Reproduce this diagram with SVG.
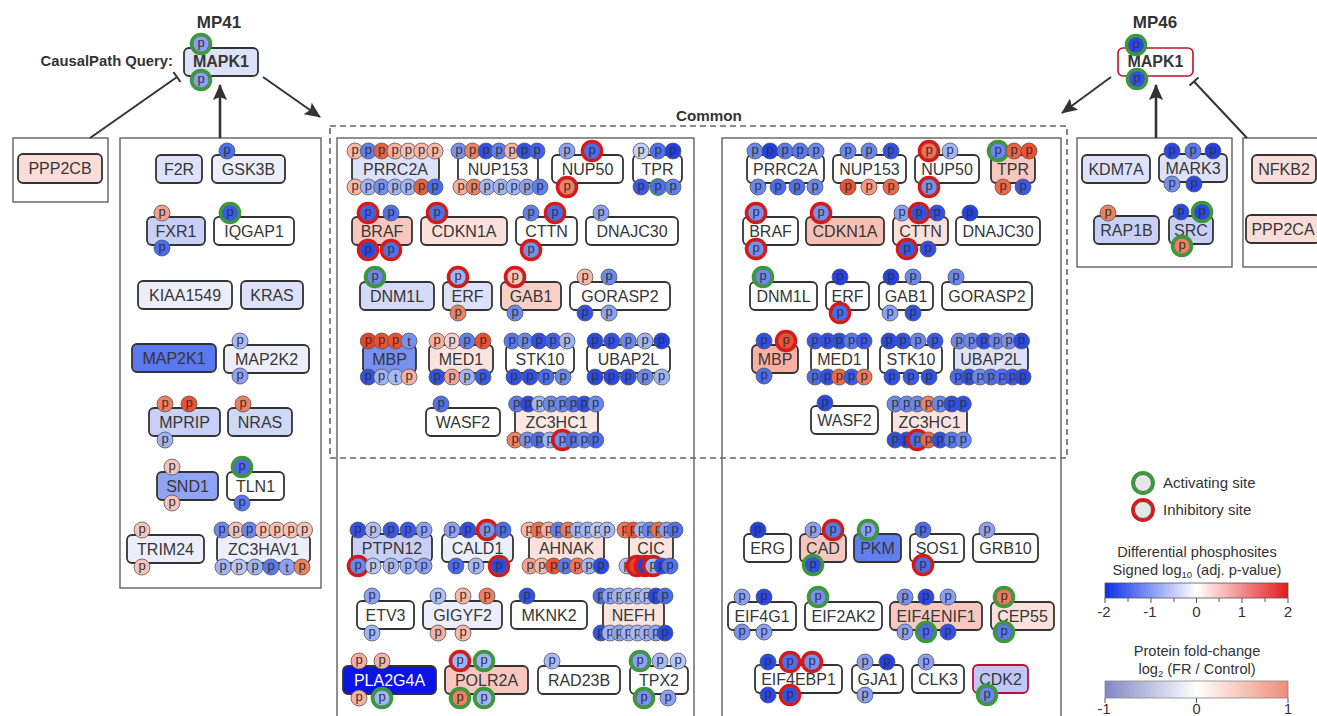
<svg xmlns="http://www.w3.org/2000/svg" width="1317" height="716" viewBox="0 0 1317 716">
<style>
.n{stroke:#333;stroke-width:1.8}
.l{font-family:"Liberation Sans",Arial,sans-serif;font-size:16px;fill:#363636;text-anchor:middle}
.sp{font-family:"Liberation Sans",Arial,sans-serif;font-size:13px;fill:#333;text-anchor:middle}
.pnl{fill:none;stroke:#555;stroke-width:1.3}
.t{font-family:"Liberation Sans",Arial,sans-serif;fill:#333}
.b{font-weight:bold}
</style>
<defs>
<g id="p"><circle r="8" stroke="#555" stroke-width="0.8"/><text class="sp" y="3">p</text></g>
<g id="t"><circle r="8" stroke="#555" stroke-width="0.8"/><text class="sp" y="4.5">t</text></g>
<circle id="A" r="9.7" fill="none" stroke="#3a9a3a" stroke-width="3.2"/>
<circle id="I" r="9.7" fill="none" stroke="#d81818" stroke-width="3.2"/>
<marker id="ah" markerUnits="userSpaceOnUse" viewBox="0 0 16 14" refX="15" refY="7" markerWidth="16" markerHeight="14" orient="auto"><path d="M0,0 L16,7 L0,14 L3,7 z" fill="#333"/></marker>
<linearGradient id="g1" x1="0" x2="1" y1="0" y2="0"><stop offset="0" stop-color="#0a32e6"/><stop offset="0.5" stop-color="#ffffff"/><stop offset="1" stop-color="#e41a1a"/></linearGradient>
<linearGradient id="g2" x1="0" x2="1" y1="0" y2="0"><stop offset="0" stop-color="#8088c4"/><stop offset="0.5" stop-color="#ffffff"/><stop offset="1" stop-color="#f08c78"/></linearGradient>
</defs>
<rect width="1317" height="716" fill="#fff"/>

<!-- panels -->
<g id="panels">
<rect class="pnl" x="13" y="138" width="95" height="64"/>
<rect class="pnl" x="120" y="138" width="201" height="450"/>
<rect class="pnl" x="337" y="138" width="357" height="600"/>
<rect class="pnl" x="722" y="138" width="339" height="600"/>
<rect class="pnl" x="1077" y="138" width="155" height="129"/>
<rect class="pnl" x="1243" y="138" width="90" height="129"/>
<rect x="330" y="126" width="737" height="332" fill="none" stroke="#666" stroke-width="1.6" stroke-dasharray="6 4"/>
</g>

<g id="titles">
<text class="t b" x="219" y="28" font-size="17" text-anchor="middle">MP41</text>
<text class="t b" x="1155" y="28" font-size="17" text-anchor="middle">MP46</text>
<text class="t b" x="173" y="66" font-size="14.8" text-anchor="end">CausalPath Query:</text>
<text class="t b" x="709" y="121" font-size="15.2" text-anchor="middle">Common</text>
</g>

<g id="connectors" stroke="#333" fill="none">
<line x1="220" y1="138" x2="220" y2="85" stroke-width="2.6" marker-end="url(#ah)"/>
<line x1="90" y1="138" x2="177" y2="77" stroke-width="2"/>
<line x1="173.5" y1="72" x2="180.5" y2="82" stroke-width="2"/>
<line x1="263" y1="77" x2="320" y2="117" stroke-width="2" marker-end="url(#ah)"/>
<line x1="1156" y1="138" x2="1156" y2="85" stroke-width="2.6" marker-end="url(#ah)"/>
<line x1="1111" y1="77" x2="1062" y2="113" stroke-width="2" marker-end="url(#ah)"/>
<line x1="1247" y1="138" x2="1194" y2="81.5" stroke-width="2"/>
<line x1="1189.6" y1="85.6" x2="1198.4" y2="77.4" stroke-width="2"/>
</g>

<!-- MP41 -->
<g id="mp41-MAPK1"><rect class="n" x="184" y="48" width="74" height="28" rx="5" fill="#dde1fa"/><text class="l b" x="221" y="67" font-size="14.5">MAPK1</text>
<use href="#p" x="201" y="44" fill="#8ca0f5"/><use href="#A" x="201" y="44"/><use href="#p" x="201" y="80" fill="#8ca0f5"/><use href="#A" x="201" y="80"/></g>
<g id="mp41-PPP2CB"><rect class="n" x="18" y="154" width="84" height="29" rx="5" fill="#fadcd8"/><text class="l" x="60" y="174">PPP2CB</text></g>
<g id="mp41-F2R"><rect class="n" x="156" y="155" width="46" height="28" rx="5" fill="#dde1fa"/><text class="l" x="179" y="174.5">F2R</text></g>
<g id="mp41-GSK3B"><rect class="n" x="212" y="155" width="73" height="28" rx="5" fill="#eceefc"/><text class="l" x="248.5" y="174.5">GSK3B</text><use href="#p" x="227" y="151" fill="#4a6cf0"/></g>
<g id="mp41-FXR1"><rect class="n" x="147" y="217" width="58" height="28" rx="5" fill="#c8d0f8"/><text class="l" x="176" y="236.5">FXR1</text><use href="#p" x="162" y="213" fill="#f4a090"/><use href="#p" x="162" y="248" fill="#4a6cf0"/></g>
<g id="mp41-IQGAP1"><rect class="n" x="214" y="217" width="80" height="28" rx="5" fill="#fff"/><text class="l" x="254" y="236.5">IQGAP1</text><use href="#p" x="230" y="213" fill="#3858ee"/><use href="#A" x="230" y="213"/></g>
<g id="mp41-KIAA1549"><rect class="n" x="138" y="281" width="94" height="28" rx="5" fill="#eceefc"/><text class="l" x="185" y="300.5">KIAA1549</text></g>
<g id="mp41-KRAS"><rect class="n" x="241" y="281" width="62" height="28" rx="5" fill="#dde1fa"/><text class="l" x="272" y="300.5">KRAS</text></g>
<g id="mp41-MAP2K1"><rect class="n" x="132" y="344" width="84" height="28" rx="5" fill="#5a78f0"/><text class="l" x="174" y="363.5">MAP2K1</text></g>
<g id="mp41-MAP2K2"><rect class="n" x="224" y="345" width="85" height="28" rx="5" fill="#eceefc"/><text class="l" x="266.5" y="364.5">MAP2K2</text><use href="#p" x="240" y="341" fill="#a8b8f8"/><use href="#p" x="240" y="376" fill="#8ca0f5"/></g>
<g id="mp41-MPRIP"><rect class="n" x="149" y="408" width="71" height="28" rx="5" fill="#c8d0f8"/><text class="l" x="184.5" y="427.5">MPRIP</text><use href="#p" x="165" y="404" fill="#f08060"/><use href="#p" x="189" y="404" fill="#f05030"/><use href="#p" x="165" y="440" fill="#a0b4f8"/></g>
<g id="mp41-NRAS"><rect class="n" x="228" y="408" width="64" height="28" rx="5" fill="#d0d8f8"/><text class="l" x="260" y="427.5">NRAS</text><use href="#p" x="243" y="404" fill="#f08060"/></g>
<g id="mp41-SND1"><rect class="n" x="157" y="472" width="61" height="28" rx="5" fill="#90a4f5"/><text class="l" x="187.5" y="491.5">SND1</text><use href="#p" x="172" y="467" fill="#f8c4b8"/><use href="#p" x="172" y="503" fill="#f8c4b8"/></g>
<g id="mp41-TLN1"><rect class="n" x="227" y="472" width="57" height="28" rx="5" fill="#fff"/><text class="l" x="255.5" y="491.5">TLN1</text><use href="#p" x="242" y="467" fill="#4a6cf0"/><use href="#A" x="242" y="467"/><use href="#p" x="242" y="503" fill="#5a78f0"/></g>
<g id="mp41-TRIM24"><rect class="n" x="127" y="535" width="77" height="28" rx="5" fill="#eceefc"/><text class="l" x="165.5" y="554.5">TRIM24</text><use href="#p" x="142" y="530" fill="#f8c4b8"/><use href="#p" x="142" y="567" fill="#f8c4b8"/></g>
<g id="mp41-ZC3HAV1"><rect class="n" x="217" y="535" width="93" height="28" rx="5" fill="#eceefc"/><text class="l" x="263.5" y="554.5">ZC3HAV1</text>
<use href="#p" x="222" y="530" fill="#6a88f0"/><use href="#p" x="236" y="530" fill="#f8c0b0"/><use href="#p" x="249.5" y="530" fill="#6a88f0"/><use href="#p" x="263" y="530" fill="#f8c0b0"/><use href="#p" x="277" y="530" fill="#f8c0b0"/><use href="#p" x="291" y="530" fill="#f8c0b0"/><use href="#p" x="304.5" y="530" fill="#f8c4b8"/>
<use href="#p" x="223" y="567" fill="#a0b4f8"/><use href="#p" x="239" y="567" fill="#b8c8f8"/><use href="#p" x="255" y="567" fill="#a0b4f8"/><use href="#p" x="271" y="567" fill="#5a78f0"/><use href="#t" x="287" y="567" fill="#8ca0f5"/><use href="#p" x="302" y="567" fill="#f08060"/></g>

<!-- MP46 -->
<g id="mp46-MAPK1"><rect x="1118" y="48" width="75" height="28" rx="5" fill="#fff" stroke="#c0102a" stroke-width="1.6"/><text class="l b" x="1155.5" y="67" font-size="14.5">MAPK1</text>
<use href="#p" x="1136" y="45" fill="#2848e8"/><use href="#A" x="1136" y="45"/><use href="#p" x="1137" y="79" fill="#3050e8"/><use href="#A" x="1137" y="79"/></g>
<g id="mp46-KDM7A"><rect class="n" x="1082" y="155" width="68" height="28" rx="5" fill="#dde1fa"/><text class="l" x="1116" y="174.5">KDM7A</text></g>
<g id="mp46-MARK3"><rect class="n" x="1159" y="154" width="68" height="28" rx="5" fill="#dde1fa"/><text class="l" x="1193" y="173.5">MARK3</text>
<use href="#p" x="1172" y="151" fill="#2848e8"/><use href="#p" x="1193" y="151" fill="#5a78f0"/><use href="#p" x="1213" y="151" fill="#2040e8"/><use href="#p" x="1172" y="184" fill="#7890f0"/><use href="#p" x="1194" y="184" fill="#2848e8"/></g>
<g id="mp46-NFKB2"><rect class="n" x="1252" y="155" width="64" height="28" rx="5" fill="#fadcd8"/><text class="l" x="1284" y="174.5">NFKB2</text></g>
<g id="mp46-RAP1B"><rect class="n" x="1094" y="216" width="65" height="28" rx="5" fill="#c8d0f8"/><text class="l" x="1126.5" y="235.5">RAP1B</text><use href="#p" x="1108" y="213" fill="#f08060"/></g>
<g id="mp46-SRC"><rect class="n" x="1169" y="216" width="44" height="28" rx="5" fill="#c8d0f8"/><text class="l" x="1191" y="235.5">SRC</text>
<use href="#p" x="1181" y="212" fill="#2848e8"/><use href="#p" x="1202" y="212" fill="#2848e8"/><use href="#A" x="1202" y="212"/><use href="#p" x="1182" y="246" fill="#f08060"/><use href="#A" x="1182" y="246"/></g>
<g id="mp46-PPP2CA"><rect class="n" x="1246" y="215" width="74" height="28" rx="5" fill="#fadcd8"/><text class="l" x="1283" y="234.5">PPP2CA</text></g>

<!-- Common left -->
<g id="cl-PRRC2A"><rect class="n" x="352" y="155" width="87" height="28" rx="5" fill="#dde1fa"/><text class="l" x="395.5" y="174.5">PRRC2A</text>
<use href="#p" x="355" y="151" fill="#f8b8a8"/><use href="#p" x="368.3" y="151" fill="#6080f0"/><use href="#p" x="381.7" y="151" fill="#e86040"/><use href="#p" x="395" y="151" fill="#f8b0a0"/><use href="#p" x="408.3" y="151" fill="#f8c0b0"/><use href="#p" x="421.7" y="151" fill="#f8b8a8"/><use href="#p" x="435" y="151" fill="#f8b8a8"/>
<use href="#p" x="355" y="187" fill="#f8b8a8"/><use href="#p" x="368.3" y="187" fill="#a0b4f8"/><use href="#p" x="381.7" y="187" fill="#7890f0"/><use href="#p" x="395" y="187" fill="#a0b4f8"/><use href="#p" x="408.3" y="187" fill="#a0b4f8"/><use href="#p" x="421.7" y="187" fill="#e86040"/><use href="#p" x="435" y="187" fill="#4a6cf0"/></g>
<g id="cl-NUP153"><rect class="n" x="458" y="155" width="80" height="28" rx="5" fill="#fff"/><text class="l" x="498" y="174.5">NUP153</text>
<use href="#p" x="459" y="151" fill="#7890f0"/><use href="#p" x="472.5" y="151" fill="#f08060"/><use href="#p" x="486" y="151" fill="#3050e8"/><use href="#p" x="499" y="151" fill="#6080f0"/><use href="#p" x="512" y="151" fill="#f8b0a0"/><use href="#p" x="524.5" y="151" fill="#3050e8"/><use href="#p" x="537" y="151" fill="#4060f0"/>
<use href="#p" x="461" y="187" fill="#f8b0a0"/><use href="#p" x="474" y="187" fill="#f08060"/><use href="#p" x="487" y="187" fill="#a0b4f8"/><use href="#p" x="501" y="187" fill="#a0b4f8"/><use href="#p" x="514" y="187" fill="#a0b4f8"/><use href="#p" x="527" y="187" fill="#8ca0f5"/><use href="#p" x="540" y="187" fill="#6080f0"/></g>
<g id="cl-NUP50"><rect class="n" x="552" y="155" width="71" height="28" rx="5" fill="#fff"/><text class="l" x="587.5" y="174.5">NUP50</text>
<use href="#p" x="567" y="151" fill="#8ca0f5"/><use href="#p" x="592" y="151" fill="#4a6cf0"/><use href="#I" x="592" y="151"/><use href="#p" x="567" y="187" fill="#f08060"/><use href="#I" x="567" y="187"/></g>
<g id="cl-TPR"><rect class="n" x="633" y="155" width="49" height="28" rx="5" fill="#fff"/><text class="l" x="657.5" y="174.5">TPR</text>
<use href="#p" x="641" y="151" fill="#c4d0fa"/><use href="#p" x="658" y="151" fill="#5070f0"/><use href="#p" x="673" y="151" fill="#2040e8"/>
<use href="#p" x="641" y="187" fill="#3858ee"/><use href="#p" x="658" y="187" fill="#5070f0"/><circle cx="658" cy="187" r="8.3" fill="none" stroke="#3a9a3a" stroke-width="1.2"/><use href="#p" x="673" y="187" fill="#6080f0"/></g>
<g id="cl-BRAF"><rect class="n" x="352" y="217" width="60" height="28" rx="5" fill="#f8c8c0"/><text class="l" x="382" y="236.5">BRAF</text>
<use href="#p" x="368" y="213" fill="#4060f0"/><use href="#I" x="368" y="213"/><use href="#p" x="391" y="213" fill="#5070f0"/>
<use href="#p" x="368" y="250" fill="#2848e8"/><use href="#I" x="368" y="250"/><use href="#p" x="391" y="250" fill="#5070f0"/><use href="#I" x="391" y="250"/></g>
<g id="cl-CDKN1A"><rect class="n" x="421" y="217" width="86" height="28" rx="5" fill="#fbe0dc"/><text class="l" x="464" y="236.5">CDKN1A</text><use href="#p" x="437" y="213" fill="#5070f0"/><use href="#I" x="437" y="213"/></g>
<g id="cl-CTTN"><rect class="n" x="516" y="217" width="61" height="28" rx="5" fill="#fff"/><text class="l" x="546.5" y="236.5">CTTN</text>
<use href="#p" x="531" y="213" fill="#6080f0"/><use href="#p" x="555" y="213" fill="#4a6cf0"/><use href="#I" x="555" y="213"/><use href="#p" x="531" y="250" fill="#7890f0"/><use href="#I" x="531" y="250"/></g>
<g id="cl-DNAJC30"><rect class="n" x="586" y="217" width="92" height="28" rx="5" fill="#fff"/><text class="l" x="632" y="236.5">DNAJC30</text><use href="#p" x="601" y="213" fill="#8ca0f5"/></g>
<g id="cl-DNM1L"><rect class="n" x="360" y="282" width="74" height="28" rx="5" fill="#d4daf8"/><text class="l" x="397" y="301.5">DNM1L</text><use href="#p" x="375" y="277" fill="#6a88f0"/><use href="#A" x="375" y="277"/></g>
<g id="cl-ERF"><rect class="n" x="443" y="282" width="49" height="28" rx="5" fill="#dde1fa"/><text class="l" x="467.5" y="301.5">ERF</text><use href="#p" x="458" y="277" fill="#a0b4f8"/><use href="#I" x="458" y="277"/><use href="#p" x="458" y="313" fill="#f08060"/></g>
<g id="cl-GAB1"><rect class="n" x="501" y="282" width="60" height="28" rx="5" fill="#f8d0c8"/><text class="l" x="531" y="301.5">GAB1</text><use href="#p" x="515" y="277" fill="#f8c4b8"/><use href="#I" x="515" y="277"/><use href="#p" x="515" y="313" fill="#6a88f0"/></g>
<g id="cl-GORASP2"><rect class="n" x="570" y="282" width="100" height="28" rx="5" fill="#fff"/><text class="l" x="620" y="301.5">GORASP2</text>
<use href="#p" x="585" y="277" fill="#f8b8a8"/><use href="#p" x="609" y="277" fill="#6a88f0"/><use href="#p" x="585" y="313" fill="#3050e8"/><use href="#p" x="609" y="313" fill="#8ca0f5"/></g>
<g id="cl-MBP"><rect class="n" x="363" y="345" width="53" height="28" rx="5" fill="#7890f0"/><text class="l" x="389.5" y="364.5">MBP</text>
<use href="#p" x="368.3" y="341" fill="#f04020"/><use href="#p" x="381.7" y="341" fill="#f05030"/><use href="#p" x="395.7" y="341" fill="#f05030"/><use href="#t" x="409" y="341" fill="#7890f0"/>
<use href="#p" x="368.3" y="377" fill="#3050e8"/><use href="#p" x="381.7" y="377" fill="#a0b4f8"/><use href="#t" x="395.7" y="377" fill="#a8b8f8"/><use href="#p" x="409" y="377" fill="#f8b0a0"/></g>
<g id="cl-MED1"><rect class="n" x="429" y="345" width="64" height="28" rx="5" fill="#fbe4e0"/><text class="l" x="461" y="364.5">MED1</text>
<use href="#p" x="437" y="341" fill="#f8b0a0"/><use href="#p" x="452" y="341" fill="#f8d0c8"/><use href="#p" x="467" y="341" fill="#6080f0"/><use href="#p" x="483" y="341" fill="#f05030"/>
<use href="#p" x="437" y="377" fill="#3050e8"/><use href="#p" x="452" y="377" fill="#f8a090"/><use href="#p" x="467" y="377" fill="#a0b4f8"/><use href="#p" x="483" y="377" fill="#3858ee"/></g>
<g id="cl-STK10"><rect class="n" x="506" y="345" width="68" height="28" rx="5" fill="#fff"/><text class="l" x="540" y="364.5">STK10</text>
<use href="#p" x="512" y="341" fill="#5a78f0"/><use href="#p" x="525" y="341" fill="#6a88f0"/><use href="#p" x="539" y="341" fill="#3050e8"/><use href="#p" x="553" y="341" fill="#4060f0"/><use href="#p" x="567" y="341" fill="#a0b4f8"/>
<use href="#p" x="514" y="377" fill="#3050e8"/><use href="#p" x="530" y="377" fill="#3050e8"/><use href="#p" x="546" y="377" fill="#4a6cf0"/><use href="#p" x="563" y="377" fill="#6a88f0"/></g>
<g id="cl-UBAP2L"><rect class="n" x="587" y="345" width="83" height="28" rx="5" fill="#fff"/><text class="l" x="628.5" y="364.5">UBAP2L</text>
<use href="#p" x="595" y="341" fill="#2848e8"/><use href="#p" x="611.7" y="341" fill="#3050e8"/><use href="#p" x="628.3" y="341" fill="#6a88f0"/><use href="#p" x="645" y="341" fill="#a0b4f8"/><use href="#p" x="661.7" y="341" fill="#2040e8"/>
<use href="#p" x="595" y="377" fill="#2848e8"/><use href="#p" x="611.7" y="377" fill="#2848e8"/><use href="#p" x="628.3" y="377" fill="#3050e8"/><use href="#p" x="645" y="377" fill="#6a88f0"/><use href="#p" x="661.7" y="377" fill="#a0b4f8"/></g>
<g id="cl-WASF2"><rect class="n" x="426" y="408" width="74" height="28" rx="5" fill="#fff"/><text class="l" x="463" y="427.5">WASF2</text><use href="#p" x="441" y="404" fill="#5070f0"/></g>
<g id="cl-ZC3HC1"><rect class="n" x="515" y="408" width="83" height="28" rx="5" fill="#fbe8e4"/><text class="l" x="556.5" y="427.5">ZC3HC1</text>
<use href="#p" x="516.7" y="404" fill="#5a78f0"/><use href="#p" x="528.3" y="404" fill="#2848e8"/><use href="#p" x="539.3" y="404" fill="#a0b4f8"/><use href="#p" x="551" y="404" fill="#6a88f0"/><use href="#p" x="562.3" y="404" fill="#6a88f0"/><use href="#p" x="573.3" y="404" fill="#5070f0"/><use href="#p" x="584.3" y="404" fill="#3050e8"/><use href="#p" x="595.7" y="404" fill="#6a88f0"/>
<use href="#p" x="515" y="440" fill="#f08060"/><use href="#p" x="527.3" y="440" fill="#7890f0"/><use href="#p" x="539" y="440" fill="#4a6cf0"/><use href="#p" x="550" y="440" fill="#a0b4f8"/><use href="#p" x="562.3" y="440" fill="#7890f0"/><use href="#I" x="562.3" y="440"/><use href="#p" x="573.3" y="440" fill="#5070f0"/><use href="#p" x="584.3" y="440" fill="#6a88f0"/><use href="#p" x="595.7" y="440" fill="#4a6cf0"/></g>

<!-- Common right -->
<g id="cr-PRRC2A"><rect class="n" x="747" y="155" width="77" height="28" rx="5" fill="#fff"/><text class="l" x="785.5" y="174.5">PRRC2A</text>
<use href="#p" x="755" y="151" fill="#6a88f0"/><use href="#p" x="770" y="151" fill="#2040e8"/><use href="#p" x="785" y="151" fill="#5a78f0"/><use href="#p" x="800" y="151" fill="#5a78f0"/><use href="#p" x="816" y="151" fill="#6a88f0"/>
<use href="#p" x="758" y="187" fill="#6a88f0"/><use href="#p" x="778" y="187" fill="#4a6cf0"/><use href="#p" x="797" y="187" fill="#5070f0"/><use href="#p" x="815" y="187" fill="#6a88f0"/></g>
<g id="cr-NUP153"><rect class="n" x="833" y="155" width="73" height="28" rx="5" fill="#fff"/><text class="l" x="869.5" y="174.5">NUP153</text>
<use href="#p" x="848" y="151" fill="#6a88f0"/><use href="#p" x="869" y="151" fill="#6a88f0"/><use href="#p" x="891" y="151" fill="#3050e8"/>
<use href="#p" x="848" y="187" fill="#f05030"/><use href="#p" x="869" y="187" fill="#f89880"/><use href="#p" x="891" y="187" fill="#f06848"/></g>
<g id="cr-NUP50"><rect class="n" x="915" y="155" width="64" height="28" rx="5" fill="#fff"/><text class="l" x="947" y="174.5">NUP50</text>
<use href="#p" x="929" y="151" fill="#f07050"/><use href="#I" x="929" y="151"/><use href="#p" x="950" y="151" fill="#a0b4f8"/><use href="#p" x="929" y="187" fill="#7890f0"/><use href="#I" x="929" y="187"/></g>
<g id="cr-TPR"><rect class="n" x="991" y="155" width="44" height="28" rx="5" fill="#f8c8c0"/><text class="l" x="1013" y="174.5">TPR</text>
<use href="#p" x="998" y="151" fill="#6a88f0"/><use href="#A" x="998" y="151"/><use href="#p" x="1014" y="151" fill="#f06040"/><use href="#p" x="1029" y="151" fill="#f05030"/>
<use href="#p" x="1003" y="187" fill="#f06848"/><use href="#p" x="1023" y="187" fill="#3858ee"/></g>
<g id="cr-BRAF"><rect class="n" x="743" y="217" width="55" height="28" rx="5" fill="#fff"/><text class="l" x="770.5" y="236.5">BRAF</text>
<use href="#p" x="756" y="213" fill="#7890f0"/><use href="#I" x="756" y="213"/><use href="#p" x="756" y="249" fill="#7890f0"/><use href="#I" x="756" y="249"/></g>
<g id="cr-CDKN1A"><rect class="n" x="806" y="217" width="78" height="28" rx="5" fill="#f8c0b4"/><text class="l" x="845" y="236.5">CDKN1A</text><use href="#p" x="821" y="213" fill="#7890f0"/><use href="#I" x="821" y="213"/></g>
<g id="cr-CTTN"><rect class="n" x="893" y="217" width="55" height="28" rx="5" fill="#fbe0dc"/><text class="l" x="920.5" y="236.5">CTTN</text>
<use href="#p" x="902" y="213" fill="#8ca0f5"/><use href="#p" x="919" y="213" fill="#3050e8"/><use href="#I" x="919" y="213"/><use href="#p" x="937" y="213" fill="#3050e8"/>
<use href="#p" x="907" y="249" fill="#3858ee"/><use href="#I" x="907" y="249"/><use href="#p" x="928" y="249" fill="#3050e8"/></g>
<g id="cr-DNAJC30"><rect class="n" x="956" y="217" width="84" height="28" rx="5" fill="#fff"/><text class="l" x="998" y="236.5">DNAJC30</text><use href="#p" x="970" y="213" fill="#2040e8"/></g>
<g id="cr-DNM1L"><rect class="n" x="750" y="282" width="67" height="28" rx="5" fill="#fff"/><text class="l" x="783.5" y="301.5">DNM1L</text><use href="#p" x="763" y="277" fill="#6a88f0"/><use href="#A" x="763" y="277"/></g>
<g id="cr-ERF"><rect class="n" x="826" y="282" width="43" height="28" rx="5" fill="#fff"/><text class="l" x="847.5" y="301.5">ERF</text><use href="#p" x="840" y="277" fill="#2040e8"/><use href="#p" x="840" y="313" fill="#4a6cf0"/><use href="#I" x="840" y="313"/></g>
<g id="cr-GAB1"><rect class="n" x="879" y="282" width="54" height="28" rx="5" fill="#fff"/><text class="l" x="906" y="301.5">GAB1</text>
<use href="#p" x="891" y="277" fill="#2040e8"/><use href="#p" x="913" y="277" fill="#6a88f0"/><use href="#p" x="890" y="313" fill="#8ca0f5"/><use href="#p" x="913" y="313" fill="#3050e8"/></g>
<g id="cr-GORASP2"><rect class="n" x="942" y="282" width="90" height="28" rx="5" fill="#fff"/><text class="l" x="987" y="301.5">GORASP2</text><use href="#p" x="956" y="277" fill="#6a88f0"/></g>
<g id="cr-MBP"><rect class="n" x="752" y="345" width="46" height="28" rx="5" fill="#f8b0a4"/><text class="l" x="775" y="364.5">MBP</text>
<use href="#p" x="764" y="341" fill="#3050e8"/><use href="#p" x="786" y="341" fill="#f05030"/><use href="#I" x="786" y="341"/><use href="#p" x="764" y="376" fill="#4a6cf0"/></g>
<g id="cr-MED1"><rect class="n" x="811" y="345" width="57" height="28" rx="5" fill="#fff"/><text class="l" x="839.5" y="364.5">MED1</text>
<use href="#p" x="815" y="341" fill="#3858ee"/><use href="#p" x="827.7" y="341" fill="#3050e8"/><use href="#p" x="839.3" y="341" fill="#3050e8"/><use href="#p" x="851.7" y="341" fill="#5a78f0"/><use href="#p" x="864" y="341" fill="#3858ee"/>
<use href="#p" x="815" y="377" fill="#4a6cf0"/><use href="#p" x="827.7" y="377" fill="#3050e8"/><use href="#p" x="839.3" y="377" fill="#f06848"/><use href="#p" x="851.7" y="377" fill="#3858ee"/><use href="#p" x="864" y="377" fill="#f07858"/></g>
<g id="cr-STK10"><rect class="n" x="880" y="345" width="62" height="28" rx="5" fill="#fff"/><text class="l" x="911" y="364.5">STK10</text>
<use href="#p" x="889" y="341" fill="#2848e8"/><use href="#p" x="903" y="341" fill="#3050e8"/><use href="#p" x="918" y="341" fill="#6a88f0"/><use href="#p" x="935" y="341" fill="#3858ee"/>
<use href="#p" x="892" y="377" fill="#3050e8"/><use href="#p" x="911" y="377" fill="#3858ee"/><use href="#p" x="929" y="377" fill="#3050e8"/></g>
<g id="cr-UBAP2L"><rect class="n" x="954" y="345" width="74" height="28" rx="5" fill="#dde1fa"/><text class="l" x="991" y="364.5">UBAP2L</text>
<use href="#p" x="959" y="341" fill="#6a88f0"/><use href="#p" x="971.5" y="341" fill="#6a88f0"/><use href="#p" x="984" y="341" fill="#3050e8"/><use href="#p" x="996.5" y="341" fill="#6a88f0"/><use href="#p" x="1009" y="341" fill="#7890f0"/><use href="#p" x="1021.5" y="341" fill="#2848e8"/>
<use href="#p" x="958" y="377" fill="#4a6cf0"/><use href="#p" x="969" y="377" fill="#3050e8"/><use href="#p" x="980" y="377" fill="#6a88f0"/><use href="#p" x="991" y="377" fill="#5070f0"/><use href="#p" x="1002" y="377" fill="#5070f0"/><use href="#p" x="1012.5" y="377" fill="#3858ee"/><use href="#p" x="1023" y="377" fill="#2848e8"/></g>
<g id="cr-WASF2"><rect class="n" x="811" y="406" width="67" height="28" rx="5" fill="#fff"/><text class="l" x="844.5" y="425.5">WASF2</text><use href="#p" x="825" y="403" fill="#2848e8"/></g>
<g id="cr-ZC3HC1"><rect class="n" x="892" y="408" width="75" height="28" rx="5" fill="#fbe4e0"/><text class="l" x="929.5" y="427.5">ZC3HC1</text>
<use href="#p" x="895" y="404" fill="#6a88f0"/><use href="#p" x="906.7" y="404" fill="#6a88f0"/><use href="#p" x="917.3" y="404" fill="#6a88f0"/><use href="#p" x="928.3" y="404" fill="#f08060"/><use href="#p" x="940" y="404" fill="#6a88f0"/><use href="#p" x="951.7" y="404" fill="#3050e8"/><use href="#p" x="963.3" y="404" fill="#3050e8"/>
<use href="#p" x="895" y="440" fill="#3050e8"/><use href="#p" x="906.7" y="440" fill="#2848e8"/><use href="#p" x="917.3" y="440" fill="#4a6cf0"/><use href="#I" x="917.3" y="440"/><use href="#p" x="928.3" y="440" fill="#f06848"/><use href="#p" x="940" y="440" fill="#3050e8"/><use href="#p" x="951.7" y="440" fill="#5a78f0"/><use href="#p" x="963.3" y="440" fill="#6a88f0"/></g>

<!-- MP41-only lower -->
<g id="bl-PTPN12"><rect class="n" x="352" y="534" width="80" height="28" rx="5" fill="#c8d0f8"/><text class="l" x="392" y="553.5">PTPN12</text>
<use href="#p" x="358" y="530" fill="#3050e8"/><use href="#p" x="373" y="530" fill="#b0c0f8"/><use href="#p" x="391" y="530" fill="#3858ee"/><use href="#p" x="408" y="530" fill="#3858ee"/><use href="#p" x="424" y="530" fill="#8ca0f5"/>
<use href="#p" x="358" y="566" fill="#6a88f0"/><use href="#I" x="358" y="566"/><use href="#p" x="373" y="566" fill="#b8c8f8"/><use href="#p" x="391" y="566" fill="#a8b8f8"/><use href="#p" x="408" y="566" fill="#a0b4f8"/><use href="#p" x="424" y="566" fill="#8ca0f5"/></g>
<g id="bl-CALD1"><rect class="n" x="442" y="534" width="71" height="28" rx="5" fill="#eceefc"/><text class="l" x="477.5" y="553.5">CALD1</text>
<use href="#p" x="452" y="530" fill="#8ca0f5"/><use href="#p" x="468" y="530" fill="#3050e8"/><use href="#p" x="487" y="530" fill="#7890f0"/><use href="#I" x="487" y="530"/><use href="#p" x="503" y="530" fill="#4a6cf0"/>
<use href="#p" x="456" y="566" fill="#4a6cf0"/><use href="#p" x="476" y="566" fill="#a8b8f8"/><use href="#p" x="499" y="566" fill="#2848e8"/><use href="#I" x="499" y="566"/></g>
<g id="bl-AHNAK"><rect class="n" x="529" y="534" width="75" height="28" rx="5" fill="#fbe0dc"/><text class="l" x="566.5" y="553.5">AHNAK</text>
<use href="#p" x="529" y="530" fill="#f8b8a8"/><use href="#p" x="538.8" y="530" fill="#f07050"/><use href="#p" x="548.5" y="530" fill="#f8b0a0"/><use href="#p" x="558.3" y="530" fill="#6080f0"/><use href="#p" x="568" y="530" fill="#f07858"/><use href="#p" x="577.8" y="530" fill="#a0b4f8"/><use href="#p" x="587.5" y="530" fill="#a0b4f8"/><use href="#p" x="597.3" y="530" fill="#b8c8f8"/><use href="#p" x="607" y="530" fill="#a8b8f8"/>
<use href="#p" x="530" y="566" fill="#f8a088"/><use href="#p" x="541.8" y="566" fill="#f8b8a8"/><use href="#p" x="553.6" y="566" fill="#f05030"/><use href="#p" x="565.4" y="566" fill="#5a78f0"/><use href="#p" x="577.2" y="566" fill="#f07858"/><use href="#p" x="589" y="566" fill="#a0b4f8"/><use href="#p" x="601" y="566" fill="#2848e8"/></g>
<g id="bl-CIC"><rect class="n" x="629" y="534" width="44" height="28" rx="5" fill="#fbe4e0"/><text class="l" x="651" y="553.5">CIC</text>
<use href="#p" x="625" y="530" fill="#f07858"/><use href="#p" x="633.3" y="530" fill="#f05030"/><use href="#p" x="641.7" y="530" fill="#a0b4f8"/><use href="#p" x="650" y="530" fill="#6a88f0"/><use href="#p" x="658.3" y="530" fill="#f07040"/><use href="#p" x="666.7" y="530" fill="#8ca0f5"/><use href="#p" x="675" y="530" fill="#5070f0"/>
<use href="#p" x="627" y="566" fill="#b0c0f8"/><use href="#p" x="637" y="566" fill="#f04020"/><use href="#I" x="637" y="566"/><use href="#p" x="645" y="566" fill="#2040e8"/><use href="#I" x="645" y="566"/><use href="#p" x="653" y="566" fill="#a0b4f8"/><use href="#I" x="653" y="566"/><use href="#p" x="662" y="566" fill="#2848e8"/><use href="#p" x="670" y="566" fill="#5070f0"/></g>
<g id="bl-ETV3"><rect class="n" x="357" y="601" width="57" height="28" rx="5" fill="#fff"/><text class="l" x="385.5" y="620.5">ETV3</text><use href="#p" x="372" y="596" fill="#8ca0f5"/><use href="#p" x="372" y="633" fill="#a0b4f8"/></g>
<g id="bl-GIGYF2"><rect class="n" x="423" y="601" width="79" height="28" rx="5" fill="#eceefc"/><text class="l" x="462.5" y="620.5">GIGYF2</text>
<use href="#p" x="438" y="596" fill="#b0c0f8"/><use href="#p" x="463" y="596" fill="#f8b8a8"/><use href="#p" x="487" y="596" fill="#f08060"/><use href="#p" x="438" y="633" fill="#f8b0a0"/><use href="#p" x="463" y="633" fill="#f8b8a8"/></g>
<g id="bl-MKNK2"><rect class="n" x="511" y="601" width="76" height="28" rx="5" fill="#fff"/><text class="l" x="549" y="620.5">MKNK2</text><use href="#p" x="527" y="596" fill="#3050e8"/></g>
<g id="bl-NEFH"><rect class="n" x="603" y="601" width="61" height="28" rx="5" fill="#fbe4e0"/><text class="l" x="633.5" y="620.5">NEFH</text>
<use href="#p" x="601" y="596" fill="#4a6cf0"/><use href="#p" x="610" y="596" fill="#8ca0f5"/><use href="#p" x="619.3" y="596" fill="#a0b4f8"/><use href="#p" x="628.4" y="596" fill="#a8b8f8"/><use href="#p" x="637.6" y="596" fill="#a0b4f8"/><use href="#p" x="646.7" y="596" fill="#a8b8f8"/><use href="#p" x="655.9" y="596" fill="#2848e8"/><use href="#p" x="665" y="596" fill="#4a6cf0"/>
<use href="#p" x="601" y="633" fill="#3050e8"/><use href="#p" x="610" y="633" fill="#a0b4f8"/><use href="#p" x="619.3" y="633" fill="#8ca0f5"/><use href="#p" x="628.4" y="633" fill="#a0b4f8"/><use href="#p" x="637.6" y="633" fill="#a8b8f8"/><use href="#p" x="646.7" y="633" fill="#a0b4f8"/><use href="#p" x="655.9" y="633" fill="#8ca0f5"/><use href="#p" x="665" y="633" fill="#2848e8"/></g>
<g id="bl-PLA2G4A"><rect class="n" x="343" y="666" width="93" height="28" rx="5" fill="#0a14e8"/><text class="l" x="389.5" y="685.5" style="fill:#fff">PLA2G4A</text>
<use href="#p" x="359" y="661" fill="#f8b0a0"/><use href="#p" x="382" y="661" fill="#f8b0a0"/><use href="#p" x="359" y="698" fill="#f8b0a0"/><use href="#p" x="382" y="698" fill="#a0b4f8"/><use href="#A" x="382" y="698"/></g>
<g id="bl-POLR2A"><rect class="n" x="445" y="666" width="83" height="28" rx="5" fill="#f8c8c0"/><text class="l" x="486.5" y="685.5">POLR2A</text>
<use href="#p" x="460" y="661" fill="#a0b4f8"/><use href="#I" x="460" y="661"/><use href="#p" x="484" y="661" fill="#a0b4f8"/><use href="#A" x="484" y="661"/>
<use href="#p" x="460" y="698" fill="#f08060"/><use href="#A" x="460" y="698"/><use href="#p" x="484" y="698" fill="#a0b4f8"/><use href="#A" x="484" y="698"/></g>
<g id="bl-RAD23B"><rect class="n" x="538" y="666" width="82" height="28" rx="5" fill="#fff"/><text class="l" x="579" y="685.5">RAD23B</text><use href="#p" x="552" y="661" fill="#a8b8f8"/></g>
<g id="bl-TPX2"><rect class="n" x="630" y="666" width="58" height="28" rx="5" fill="#fff"/><text class="l" x="659" y="685.5">TPX2</text>
<use href="#p" x="640" y="661" fill="#8ca0f5"/><use href="#A" x="640" y="661"/><use href="#p" x="660" y="661" fill="#a8b8f8"/><use href="#p" x="678" y="661" fill="#b8c8f8"/>
<use href="#p" x="644" y="698" fill="#7890f0"/><use href="#A" x="644" y="698"/><use href="#p" x="668" y="698" fill="#8ca0f5"/></g>

<!-- MP46-only lower -->
<g id="br-ERG"><rect class="n" x="744" y="534" width="47" height="28" rx="5" fill="#fff"/><text class="l" x="767.5" y="553.5">ERG</text><use href="#p" x="758" y="530" fill="#2040e8"/></g>
<g id="br-CAD"><rect class="n" x="800" y="534" width="46" height="28" rx="5" fill="#f8c8c0"/><text class="l" x="823" y="553.5">CAD</text>
<use href="#p" x="813" y="530" fill="#8ca0f5"/><use href="#p" x="833" y="530" fill="#5a78f0"/><use href="#I" x="833" y="530"/><use href="#p" x="813" y="565" fill="#3050e8"/><use href="#A" x="813" y="565"/></g>
<g id="br-PKM"><rect class="n" x="854" y="534" width="47" height="28" rx="5" fill="#6080f0"/><text class="l" x="877.5" y="553.5">PKM</text><use href="#p" x="868" y="530" fill="#8ca0f5"/><use href="#A" x="868" y="530"/></g>
<g id="br-SOS1"><rect class="n" x="910" y="534" width="54" height="28" rx="5" fill="#fff"/><text class="l" x="937" y="553.5">SOS1</text><use href="#p" x="923" y="530" fill="#4a6cf0"/><use href="#p" x="923" y="565" fill="#4a6cf0"/><use href="#I" x="923" y="565"/></g>
<g id="br-GRB10"><rect class="n" x="973" y="534" width="65" height="28" rx="5" fill="#fff"/><text class="l" x="1005.5" y="553.5">GRB10</text><use href="#p" x="987" y="530" fill="#8ca0f5"/></g>
<g id="br-EIF4G1"><rect class="n" x="728" y="602" width="68" height="28" rx="5" fill="#fff"/><text class="l" x="762" y="621.5">EIF4G1</text>
<use href="#p" x="742" y="597" fill="#8ca0f5"/><use href="#p" x="764" y="597" fill="#2848e8"/><use href="#p" x="742" y="632" fill="#7890f0"/><use href="#p" x="764" y="632" fill="#8ca0f5"/></g>
<g id="br-EIF2AK2"><rect class="n" x="805" y="602" width="77" height="28" rx="5" fill="#fff"/><text class="l" x="843.5" y="621.5">EIF2AK2</text><use href="#p" x="818" y="597" fill="#7890f0"/><use href="#A" x="818" y="597"/></g>
<g id="br-EIF4ENIF1"><rect class="n" x="890" y="602" width="92" height="28" rx="5" fill="#f8c8c0"/><text class="l" x="936" y="621.5">EIF4ENIF1</text>
<use href="#p" x="905" y="597" fill="#7890f0"/><use href="#p" x="926" y="597" fill="#2848e8"/><use href="#p" x="948" y="597" fill="#8ca0f5"/>
<use href="#p" x="905" y="632" fill="#8ca0f5"/><use href="#p" x="926" y="632" fill="#4a6cf0"/><use href="#A" x="926" y="632"/><use href="#p" x="948" y="632" fill="#3050e8"/></g>
<g id="br-CEP55"><rect class="n" x="991" y="602" width="63" height="28" rx="5" fill="#fbe0dc"/><text class="l" x="1022.5" y="621.5">CEP55</text>
<use href="#p" x="1004" y="597" fill="#f07858"/><use href="#A" x="1004" y="597"/><use href="#p" x="1004" y="632" fill="#5a78f0"/><use href="#A" x="1004" y="632"/></g>
<g id="br-EIF4EBP1"><rect class="n" x="755" y="665" width="87" height="28" rx="5" fill="#fff"/><text class="l" x="798.5" y="684.5">EIF4EBP1</text>
<use href="#p" x="768" y="662" fill="#2848e8"/><use href="#p" x="790" y="662" fill="#5070f0"/><use href="#I" x="790" y="662"/><use href="#p" x="812" y="662" fill="#7890f0"/><use href="#I" x="812" y="662"/>
<use href="#p" x="768" y="695" fill="#2848e8"/><use href="#p" x="790" y="695" fill="#3050e8"/><use href="#I" x="790" y="695"/></g>
<g id="br-GJA1"><rect class="n" x="852" y="665" width="51" height="28" rx="5" fill="#fff"/><text class="l" x="877.5" y="684.5">GJA1</text>
<use href="#p" x="865" y="662" fill="#8ca0f5"/><use href="#p" x="887" y="662" fill="#2040e8"/><use href="#p" x="865" y="695" fill="#8ca0f5"/></g>
<g id="br-CLK3"><rect class="n" x="912" y="665" width="52" height="28" rx="5" fill="#fff"/><text class="l" x="938" y="684.5">CLK3</text><use href="#p" x="926" y="662" fill="#8ca0f5"/></g>
<g id="br-CDK2"><rect x="973" y="665" width="55" height="28" rx="5" fill="#c0c8f8" stroke="#c01030" stroke-width="1.8"/><text class="l" x="1000.5" y="684.5">CDK2</text><use href="#p" x="987" y="695" fill="#6a88f0"/><use href="#A" x="987" y="695"/></g>

<!-- legend -->
<g id="legend">
<circle cx="1143" cy="483" r="8.5" fill="#e6e6e6" stroke="#444" stroke-width="1"/><circle cx="1143" cy="483" r="10.3" fill="none" stroke="#3a9a3a" stroke-width="3.2"/>
<text class="t" x="1163" y="488" font-size="15">Activating site</text>
<circle cx="1143" cy="510" r="8.5" fill="#e6e6e6" stroke="#444" stroke-width="1"/><circle cx="1143" cy="510" r="10.3" fill="none" stroke="#d81818" stroke-width="3.2"/>
<text class="t" x="1163" y="515" font-size="15">Inhibitory site</text>
<text class="t" x="1197" y="557" font-size="14.6" text-anchor="middle">Differential phosphosites</text>
<text class="t" x="1197" y="575" font-size="14.6" text-anchor="middle">Signed log<tspan font-size="9.5" dy="3">10</tspan><tspan dy="-3"> (adj. p-value)</tspan></text>
<rect x="1105" y="583" width="183" height="15" fill="url(#g1)" stroke="#555" stroke-width="0.8"/>
<g stroke="#555" stroke-width="1"><line x1="1105" y1="598" x2="1105" y2="603"/><line x1="1128" y1="598" x2="1128" y2="602"/><line x1="1151" y1="598" x2="1151" y2="603"/><line x1="1174" y1="598" x2="1174" y2="602"/><line x1="1196.5" y1="598" x2="1196.5" y2="603"/><line x1="1219" y1="598" x2="1219" y2="602"/><line x1="1242" y1="598" x2="1242" y2="603"/><line x1="1265" y1="598" x2="1265" y2="602"/><line x1="1288" y1="598" x2="1288" y2="603"/></g>
<g class="t" font-size="15" text-anchor="middle"><text x="1104" y="617">-2</text><text x="1150" y="617">-1</text><text x="1196.5" y="617">0</text><text x="1242" y="617">1</text><text x="1288" y="617">2</text></g>
<text class="t" x="1197" y="656" font-size="14.6" text-anchor="middle">Protein fold-change</text>
<text class="t" x="1197" y="674" font-size="14.6" text-anchor="middle">log<tspan font-size="9.5" dy="3">2</tspan><tspan dy="-3"> (FR / Control)</tspan></text>
<rect x="1105" y="681" width="183" height="17" fill="url(#g2)" stroke="#888" stroke-width="0.8"/>
<g stroke="#555" stroke-width="1"><line x1="1105" y1="698" x2="1105" y2="703"/><line x1="1196.5" y1="698" x2="1196.5" y2="703"/><line x1="1288" y1="698" x2="1288" y2="703"/></g>
<g class="t" font-size="14.5" text-anchor="middle"><text x="1104" y="714">-1</text><text x="1196.5" y="714">0</text><text x="1288" y="714">1</text></g>
</g>
</svg>
